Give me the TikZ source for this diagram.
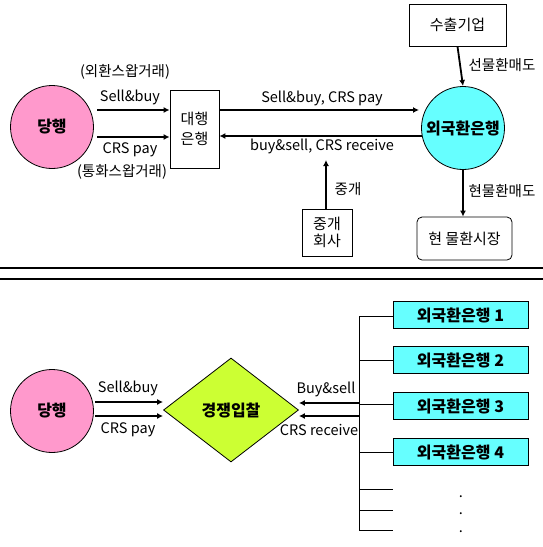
\documentclass[tikz,border=0pt]{standalone}
\usepackage{fontspec}
\setmainfont{Noto Sans CJK KR}
\usetikzlibrary{shapes.geometric,arrows.meta}
\definecolor{pinkc}{HTML}{FF99CC}
\definecolor{cyanc}{HTML}{66FFFF}
\definecolor{limec}{HTML}{CCFF33}
\begin{document}
\begin{tikzpicture}[x=1pt,y=-1pt,
  box/.style={draw, line width=0.8pt, inner sep=0pt, align=center, font=\fontsize{15}{17}\selectfont},
  circ/.style={draw, line width=0.8pt, circle, minimum size=83pt, inner sep=0pt, font=\bfseries\fontsize{16}{18}\selectfont},
  bank/.style={draw, line width=0.8pt, fill=cyanc, minimum width=135pt, minimum height=27pt, inner sep=0pt, font=\bfseries\fontsize{16}{18}\selectfont},
  arr/.style={line width=1.8pt, -{Latex[length=6pt,width=6pt]}},
  thin/.style={line width=0.8pt},
  lab/.style={font=\fontsize{14.5}{16}\selectfont, inner sep=0pt}]
\useasboundingbox (0,0) rectangle (543,547);

% ---------- top part ----------
\node[circ, fill=pinkc] (d1) at (52,127) {당행};
\node[box, minimum width=49pt, minimum height=78pt, font=\fontsize{15}{20}\selectfont] (agent) at (194.5,129) {대행\\은행};
\node[circ, fill=cyanc] (fx) at (463,128) {외국환은행};
\node[box, minimum width=97pt, minimum height=42pt] (exp) at (457.5,25) {수출기업};
\node[box, rounded corners=5pt, minimum width=95pt, minimum height=43pt] (spot) at (464.5,238.5) {현 물환시장};
\node[box, minimum width=50pt, minimum height=47pt] (brk) at (327,232.5) {중개\\회사};

\coordinate (a1s) at (97,110);
\coordinate (a2s) at (97,137);
\draw[arr] (a1s) -- (a1s -| agent.west);
\draw[arr] (a2s) -- (a2s -| agent.west);
\coordinate (a3e) at (419,110);
\coordinate (a4s) at (422,136);
\draw[arr] (agent.east |- a3e) -- (a3e);
\draw[arr] (a4s) -- (a4s -| agent.east);
\coordinate (fxin) at (463,86);
\draw[arr] (exp.south) -- (fxin);
\coordinate (fxout) at (463,170);
\draw[arr] (fxout) -- (fxout |- spot.north);
\coordinate (brkend) at (326,160);
\draw[arr] (brk.north -| brkend) -- (brkend);

\node[lab] (l1) at (125,72) {(외환스왑거래)};
\node[lab] (l2) at (130,97) {Sell\&buy};
\node[lab] (l3) at (130,150) {CRS pay};
\node[lab] (l4) at (122,172) {(통화스왑거래)};
\node[lab] (l5) at (322,98) {Sell\&buy, CRS pay};
\node[lab] (l6) at (322,146) {buy\&sell, CRS receive};
\node[lab] (l7) at (502,65) {선물환매도};
\node[lab] (l8) at (502,191) {현물환매도};
\node[lab] (l9) at (348,189) {중개};

% ---------- separator ----------
\draw[line width=1.2pt] (0,268) -- (543,268);
\draw[line width=1.2pt] (0,279) -- (543,279);

% ---------- bottom part ----------
\node[circ, fill=pinkc] (d2) at (52,411) {당행};
\node[draw, line width=0.8pt, diamond, fill=limec, minimum width=135pt, minimum height=104pt, inner sep=0pt, font=\bfseries\fontsize{16}{18}\selectfont] (bid) at (231,410) {경쟁입찰};

\coordinate (b1s) at (95,402);
\coordinate (b2s) at (95,416);
\draw[arr] (b1s) -- (b1s -| bid.west);
\draw[arr] (b2s) -- (b2s -| bid.west);

\coordinate (vtop) at (359,316);
\coordinate (vbot) at (359,530);
\draw[thin] (vtop) -- (vbot);
\coordinate (r1) at (359,403);
\coordinate (r2) at (359,416);
\draw[arr] (r1) -- (r1 -| bid.east);
\draw[arr] (r2) -- (r2 -| bid.east);

\node[lab] (m1) at (128,388) {Sell\&buy};
\node[lab] (m2) at (128,430) {CRS pay};
\node[lab] (m3) at (326,389) {Buy\&sell};
\node[lab] (m4) at (319,430) {CRS receive};

\node[bank] (k1) at (460.5,315) {외국환은행 1};
\node[bank] (k2) at (460.5,360) {외국환은행 2};
\node[bank] (k3) at (460.5,406) {외국환은행 3};
\node[bank] (k4) at (460.5,452) {외국환은행 4};

\draw[thin] (vtop) -- (vtop -| k1.west);
\foreach \y in {360,404,452,489,510,530}
  \draw[thin] (359,\y) -- (393,\y);

\node[lab, anchor=base] (dt1) at (461,497) {.};
\node[lab, anchor=base] (dt2) at (461,514) {.};
\node[lab, anchor=base] (dt3) at (461,532) {.};
\end{tikzpicture}
\end{document}
